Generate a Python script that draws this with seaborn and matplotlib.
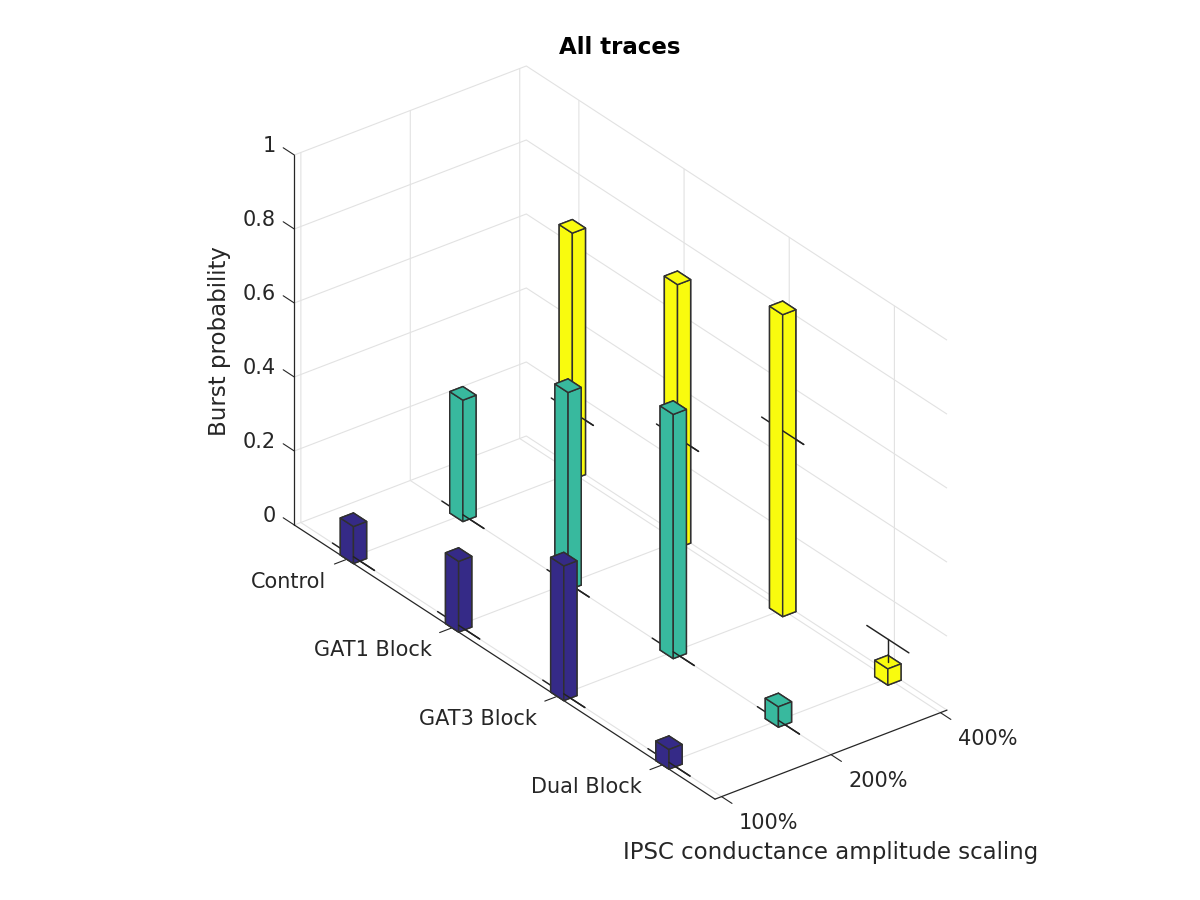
import numpy as np
import matplotlib
matplotlib.use("Agg")
import matplotlib.pyplot as plt
from matplotlib.transforms import Affine2D
import seaborn as sns
from mpl_toolkits.mplot3d import proj3d

sns.set_style("white")
plt.rcParams['font.family'] = ['DejaVu Sans']

conditions = ["Control", "GAT1 Block", "GAT3 Block", "Dual Block"]
scalings = ["100%", "200%", "400%"]
z_ticks = [0, 0.2, 0.4, 0.6, 0.8, 1]
z_tick_labels = ["0", "0.2", "0.4", "0.6", "0.8", "1"]

prob_100 = [0.100, 0.191, 0.364, 0.053]
prob_200 = [0.328, 0.534, 0.660, 0.055]
prob_400 = [0.666, 0.712, 0.816, 0.044]
err_100 = [0.0, 0.0, 0.0, 0.0]
err_200 = [0.0, 0.0, 0.0, 0.0]
err_400 = [0.165, 0.280, 0.484, 0.106]
bar_colors = sns.color_palette(["#352A87", "#38B99E", "#F9FB0E"])

TEXT = "#262626"
EDGE = "#303030"
GRID = "#e2e2e2"
XLIM = (0.5, 4.5)
YLIM = (0.94, 3.06)
W, H = 1200, 900

fig = plt.figure(figsize=(12, 9), dpi=100)
ax = fig.add_axes([0.1, 0.05, 0.8, 0.8 * W / H], projection="3d",
                  proj_type="ortho", computed_zorder=False)
ax.view_init(elev=30, azim=-37.5)
ax.set_box_aspect((691, 292.4, 427.2))
ax.set_xlim(*XLIM, view_margin=0)
ax.set_ylim(*YLIM, view_margin=0)
ax.set_zlim(0, 1, view_margin=0)


def to_px(x, y, z):
    a, b, _ = proj3d.proj_transform(x, y, z, ax.get_proj())
    dx, dy = ax.transData.transform((a, b))
    return dx, H - dy


# fit the projected box on the reference floor corners
for _ in range(3):
    ax.apply_aspect()
    p0 = to_px(XLIM[0], YLIM[0], 0)
    p1 = to_px(XLIM[1], YLIM[0], 0)
    pos = ax.get_position()
    s = (715.0 - 294.3) / (p1[0] - p0[0])
    w = pos.width * s
    ax.set_position([pos.x0, pos.y0, w, w * W / H])
    ax.apply_aspect()
    p0 = to_px(XLIM[0], YLIM[0], 0)
    pos = ax.get_position()
    ax.set_position([pos.x0 + (294.3 - p0[0]) / W,
                     pos.y0 - (525.0 - p0[1]) / H, pos.width, pos.height])

# put the vertical axis on the left front edge of the box, as in the reference
ax.zaxis._get_axis_line_edge_points = lambda minmax, maxmin, position=None: (
    np.array([XLIM[0], YLIM[0], 0.0]), np.array([XLIM[0], YLIM[0], 1.0]))

tick_factors = {"x": (0.67, 0.0), "y": (0.31, 0.0), "z": (0.0, 0.33)}
for name, axis in (("x", ax.xaxis), ("y", ax.yaxis), ("z", ax.zaxis)):
    axis.set_pane_color((1, 1, 1, 0))
    axis.pane.set_edgecolor((1, 1, 1, 0))
    axis.line.set_color(TEXT)
    axis.line.set_linewidth(0.9)
    axis._axinfo["grid"].update(color=GRID, linewidth=0.8)
    axis._axinfo["tick"].update(inward_factor=tick_factors[name][0],
                                outward_factor=tick_factors[name][1],
                                color=TEXT, linewidth={True: 0.8, False: 0.5})

ax.set_xticks(range(1, 5), conditions, ha="right", va="center", color=TEXT, fontsize=15)
ax.set_yticks([1, 2, 3], scalings, ha="left", va="center", color=TEXT, fontsize=15)
ax.set_zticks(z_ticks, z_tick_labels, ha="right", va="center", color=TEXT, fontsize=15)
ax.tick_params(axis="x", pad=2)
ax.tick_params(axis="y", pad=2)
ax.tick_params(axis="z", pad=2)


def shift_labels(axis, dx, dy):
    original = axis.get_major_ticks
    shifted = ax.transData + Affine2D().translate(dx, dy)

    def patched(numticks=None):
        ticks = original(numticks)
        for t in ticks:
            t.label1.set_transform(shifted)
        return ticks

    axis.get_major_ticks = patched


shift_labels(ax.xaxis, -13, -8)
shift_labels(ax.yaxis, 4, -6)
shift_labels(ax.zaxis, 2, 3)

BAR_DX, BAR_DY, CAP = 0.125, 0.12, 0.2
series = [(1, prob_100, err_100, bar_colors[0]),
          (2, prob_200, err_200, bar_colors[1]),
          (3, prob_400, err_400, bar_colors[2])]
order = 10
LW = 1.05
for y, probs, errs, col in reversed(series):
    for i, (p, e) in enumerate(zip(probs, errs)):
        x = i + 1
        if e <= p:
            ax.plot([x - CAP, x + CAP], [y, y], [e, e], color="#222222", lw=LW, zorder=order)
            order += 1
        ax.bar3d(x - BAR_DX / 2, y - BAR_DY / 2, 0, BAR_DX, BAR_DY, p, color=col,
                 edgecolor=EDGE, linewidth=LW, shade=False, zorder=order)
        order += 1
        if e <= p:
            ax.plot([x, x + CAP], [y, y], [e, e], color="#222222", lw=LW, zorder=order)
        else:
            ax.plot([x - CAP, x + CAP], [y, y], [e, e], color="#222222", lw=LW, zorder=order)
            ax.plot([x, x], [y, y], [p, e], color="#222222", lw=LW, zorder=order)
        order += 1


def fpos(px, py):
    return px / W, 1 - py / H


ax.text2D(*fpos(620, 47), "All traces", transform=fig.transFigure, ha="center", va="center",
          fontsize=16.5, fontweight="bold", color="black")
ax.text2D(*fpos(830.5, 852), "IPSC conductance amplitude scaling", transform=fig.transFigure,
          ha="center", va="center", fontsize=16.5, color=TEXT)
ax.text2D(*fpos(220, 341), "Burst probability", transform=fig.transFigure, ha="center",
          va="center", rotation=90, fontsize=16.5, color=TEXT)

fig.savefig("out.png", dpi=100)
